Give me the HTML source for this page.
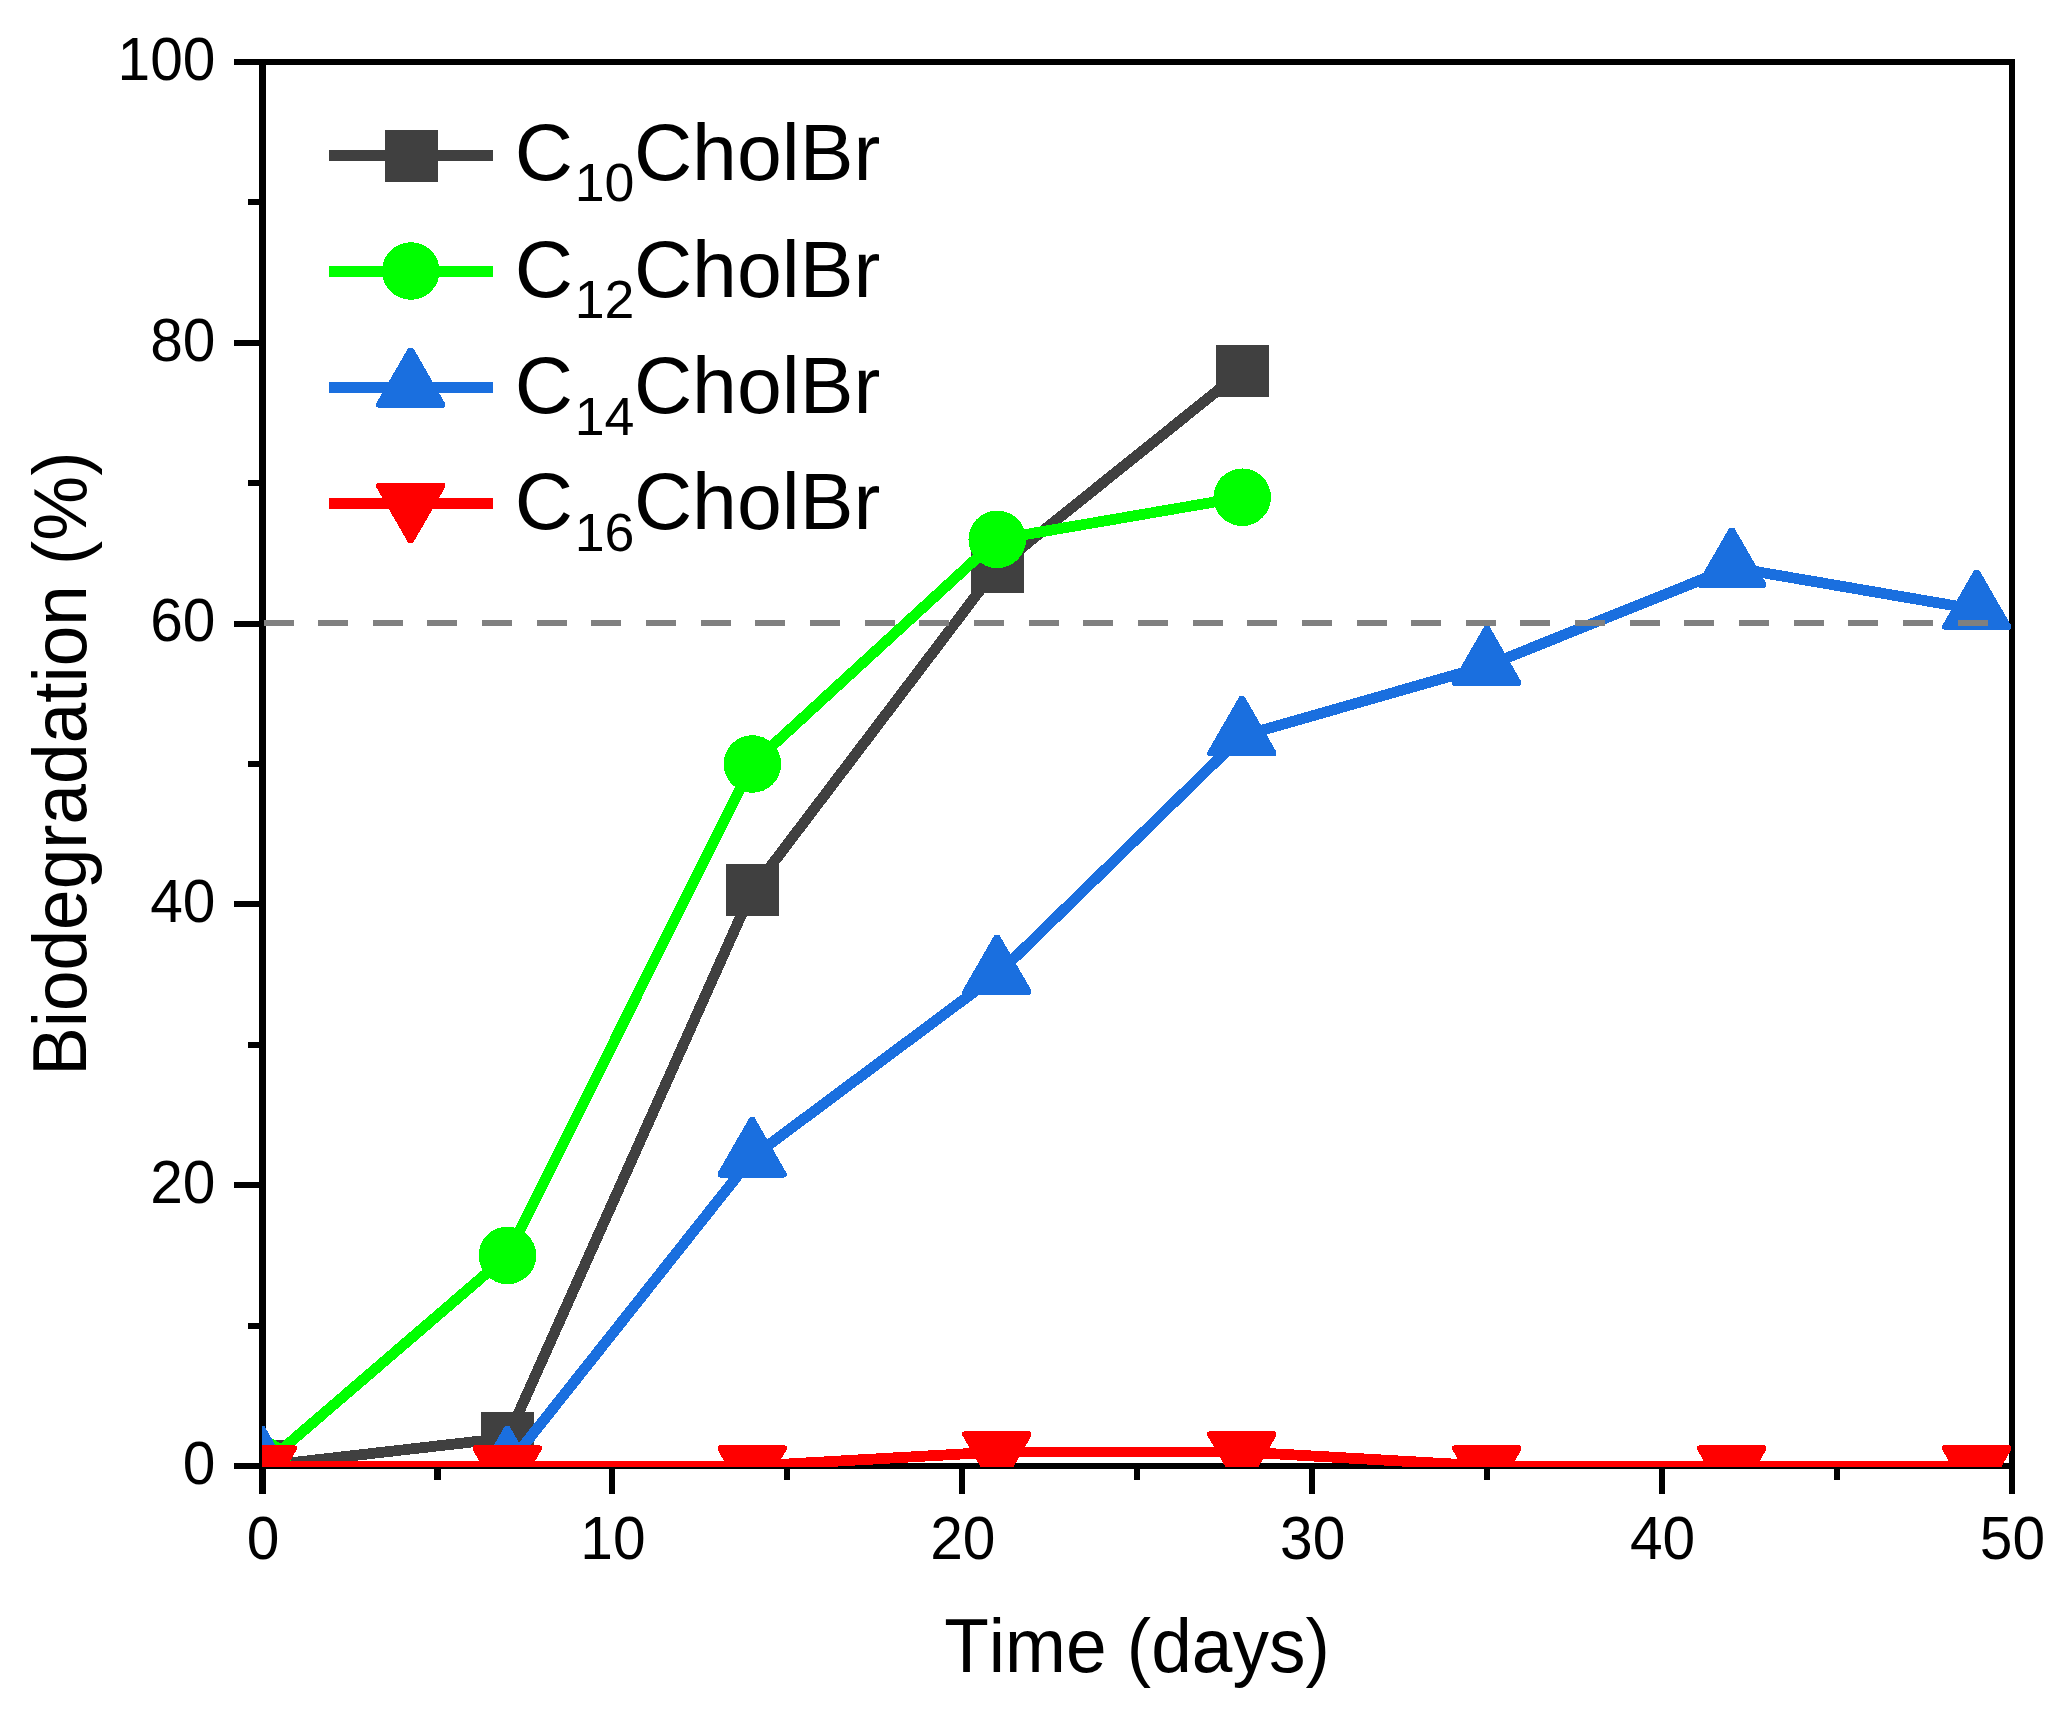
<!DOCTYPE html>
<html lang="en"><head><meta charset="utf-8"><title>Biodegradation (%) vs Time (days)</title>
<style>html,body{margin:0;padding:0;background:#fff;overflow:hidden}svg{display:block}text{font-family:"Liberation Sans",Arial,Helvetica,sans-serif;fill:#000;font-kerning:none}</style></head><body>
<svg width="2064" height="1719" viewBox="0 0 2064 1719">
<rect x="0" y="0" width="2064" height="1719" fill="#fff"/>
<defs><clipPath id="plotclip"><rect x="262" y="62" width="1749" height="1405"/></clipPath></defs>
<g fill="#000" shape-rendering="crispEdges">
<rect x="259" y="59" width="1756" height="6"/>
<rect x="259" y="1463" width="1756" height="6"/>
<rect x="259" y="59" width="7" height="1410"/>
<rect x="2009" y="59" width="6" height="1410"/>
<rect x="234" y="1463" width="26" height="6"/>
<rect x="248" y="1323" width="12" height="6"/>
<rect x="234" y="1182" width="26" height="6"/>
<rect x="248" y="1042" width="12" height="6"/>
<rect x="234" y="901" width="26" height="6"/>
<rect x="248" y="761" width="12" height="6"/>
<rect x="234" y="621" width="26" height="6"/>
<rect x="248" y="480" width="12" height="6"/>
<rect x="234" y="340" width="26" height="6"/>
<rect x="248" y="199" width="12" height="6"/>
<rect x="234" y="59" width="26" height="6"/>
<rect x="259" y="1468" width="7" height="26"/>
<rect x="434" y="1468" width="7" height="12"/>
<rect x="609" y="1468" width="6" height="26"/>
<rect x="784" y="1468" width="6" height="12"/>
<rect x="959" y="1468" width="6" height="26"/>
<rect x="1134" y="1468" width="6" height="12"/>
<rect x="1309" y="1468" width="6" height="26"/>
<rect x="1484" y="1468" width="6" height="12"/>
<rect x="1659" y="1468" width="6" height="26"/>
<rect x="1834" y="1468" width="6" height="12"/>
<rect x="2009" y="1468" width="6" height="26"/>
</g>
<g clip-path="url(#plotclip)" shape-rendering="crispEdges">
<polyline points="262.5,1466 507.43,1437.92 752.36,890.36 997.29,567.44 1242.22,370.88" fill="none" stroke="#404040" stroke-width="10.8" stroke-linejoin="round"/>
<rect x="236" y="1440" width="53" height="52" fill="#404040"/>
<rect x="480.93" y="1411.92" width="53" height="52" fill="#404040"/>
<rect x="725.86" y="864.36" width="53" height="52" fill="#404040"/>
<rect x="970.79" y="541.44" width="53" height="52" fill="#404040"/>
<rect x="1215.72" y="344.88" width="53" height="52" fill="#404040"/>
<polyline points="262.5,1466 507.43,1255.4 752.36,764 997.29,539.36 1242.22,497.24" fill="none" stroke="#00ff00" stroke-width="10.8" stroke-linejoin="round"/>
<circle cx="262.5" cy="1466" r="28.8" fill="#00ff00"/>
<circle cx="507.43" cy="1255.4" r="28.8" fill="#00ff00"/>
<circle cx="752.36" cy="764" r="28.8" fill="#00ff00"/>
<circle cx="997.29" cy="539.36" r="28.8" fill="#00ff00"/>
<circle cx="1242.22" cy="497.24" r="28.8" fill="#00ff00"/>
<polyline points="262.5,1466 507.43,1466 752.36,1157.12 997.29,974.6 1242.22,735.92 1487.15,665.72 1732.08,567.44 1977.01,609.56" fill="none" stroke="#1a6fdf" stroke-width="10.8" stroke-linejoin="round"/>
<polygon points="259.8,1426.3 264.6,1426.3 296.7,1482 296.7,1485.2 294.5,1486.4 229.9,1486.4 227.7,1485.2 227.7,1482" fill="#1a6fdf"/>
<polygon points="504.73,1426.3 509.53,1426.3 541.63,1482 541.63,1485.2 539.43,1486.4 474.83,1486.4 472.63,1485.2 472.63,1482" fill="#1a6fdf"/>
<polygon points="749.66,1117.42 754.46,1117.42 786.56,1173.12 786.56,1176.32 784.36,1177.52 719.76,1177.52 717.56,1176.32 717.56,1173.12" fill="#1a6fdf"/>
<polygon points="994.59,934.9 999.39,934.9 1031.49,990.6 1031.49,993.8 1029.29,995 964.69,995 962.49,993.8 962.49,990.6" fill="#1a6fdf"/>
<polygon points="1239.52,696.22 1244.32,696.22 1276.42,751.92 1276.42,755.12 1274.22,756.32 1209.62,756.32 1207.42,755.12 1207.42,751.92" fill="#1a6fdf"/>
<polygon points="1484.45,626.02 1489.25,626.02 1521.35,681.72 1521.35,684.92 1519.15,686.12 1454.55,686.12 1452.35,684.92 1452.35,681.72" fill="#1a6fdf"/>
<polygon points="1729.38,527.74 1734.18,527.74 1766.28,583.44 1766.28,586.64 1764.08,587.84 1699.48,587.84 1697.28,586.64 1697.28,583.44" fill="#1a6fdf"/>
<polygon points="1974.31,569.86 1979.11,569.86 2011.21,625.56 2011.21,628.76 2009.01,629.96 1944.41,629.96 1942.21,628.76 1942.21,625.56" fill="#1a6fdf"/>
<polyline points="262.5,1466 507.43,1466 752.36,1466 997.29,1451.96 1242.22,1451.96 1487.15,1466 1732.08,1466 1977.01,1466" fill="none" stroke="#ff0000" stroke-width="10.8" stroke-linejoin="round"/>
<polygon points="259.8,1505.4 264.6,1505.4 296.7,1449.7 296.7,1446.2 294.5,1445 229.9,1445 227.7,1446.2 227.7,1449.7" fill="#ff0000"/>
<polygon points="504.73,1505.4 509.53,1505.4 541.63,1449.7 541.63,1446.2 539.43,1445 474.83,1445 472.63,1446.2 472.63,1449.7" fill="#ff0000"/>
<polygon points="749.66,1505.4 754.46,1505.4 786.56,1449.7 786.56,1446.2 784.36,1445 719.76,1445 717.56,1446.2 717.56,1449.7" fill="#ff0000"/>
<polygon points="994.59,1491.36 999.39,1491.36 1031.49,1435.66 1031.49,1432.16 1029.29,1430.96 964.69,1430.96 962.49,1432.16 962.49,1435.66" fill="#ff0000"/>
<polygon points="1239.52,1491.36 1244.32,1491.36 1276.42,1435.66 1276.42,1432.16 1274.22,1430.96 1209.62,1430.96 1207.42,1432.16 1207.42,1435.66" fill="#ff0000"/>
<polygon points="1484.45,1505.4 1489.25,1505.4 1521.35,1449.7 1521.35,1446.2 1519.15,1445 1454.55,1445 1452.35,1446.2 1452.35,1449.7" fill="#ff0000"/>
<polygon points="1729.38,1505.4 1734.18,1505.4 1766.28,1449.7 1766.28,1446.2 1764.08,1445 1699.48,1445 1697.28,1446.2 1697.28,1449.7" fill="#ff0000"/>
<polygon points="1974.31,1505.4 1979.11,1505.4 2011.21,1449.7 2011.21,1446.2 2009.01,1445 1944.41,1445 1942.21,1446.2 1942.21,1449.7" fill="#ff0000"/>
<line x1="263.5" y1="623" x2="2011" y2="623" stroke="#808080" stroke-width="6" stroke-dasharray="30 24.65" shape-rendering="crispEdges"/>
</g>
<g font-size="58.7">
<text transform="translate(215.5 1483.8) scale(1 1.035)" text-anchor="end">0</text>
<text transform="translate(215.5 1203) scale(1 1.035)" text-anchor="end">20</text>
<text transform="translate(215.5 922.2) scale(1 1.035)" text-anchor="end">40</text>
<text transform="translate(215.5 641.4) scale(1 1.035)" text-anchor="end">60</text>
<text transform="translate(215.5 360.6) scale(1 1.035)" text-anchor="end">80</text>
<text transform="translate(215.5 79.8) scale(1 1.035)" text-anchor="end">100</text>
<text transform="translate(263 1558.7) scale(1 1.035)" text-anchor="middle">0</text>
<text transform="translate(612.9 1558.7) scale(1 1.035)" text-anchor="middle">10</text>
<text transform="translate(962.8 1558.7) scale(1 1.035)" text-anchor="middle">20</text>
<text transform="translate(1312.7 1558.7) scale(1 1.035)" text-anchor="middle">30</text>
<text transform="translate(1662.6 1558.7) scale(1 1.035)" text-anchor="middle">40</text>
<text transform="translate(2012.5 1558.7) scale(1 1.035)" text-anchor="middle">50</text>
</g>
<text transform="translate(1137 1672.1) scale(1 1.035)" font-size="73.05" text-anchor="middle">Time (days)</text>
<text transform="translate(86 763.7) rotate(-90) scale(1 1.035)" font-size="72.95" text-anchor="middle">Biodegradation (%)</text>
<g shape-rendering="crispEdges">
<rect x="329" y="150.1" width="164" height="10.8" fill="#404040" shape-rendering="crispEdges"/>
<rect x="329" y="266.1" width="164" height="10.8" fill="#00ff00" shape-rendering="crispEdges"/>
<rect x="329" y="382.1" width="164" height="10.8" fill="#1a6fdf" shape-rendering="crispEdges"/>
<rect x="329" y="498.1" width="164" height="10.8" fill="#ff0000" shape-rendering="crispEdges"/>
<rect x="385" y="130" width="53" height="52" fill="#404040"/>
<circle cx="410.8" cy="271" r="28.8" fill="#00ff00"/>
<polygon points="408.3,347.8 413.1,347.8 445.2,403.5 445.2,406.7 443,407.9 378.4,407.9 376.2,406.7 376.2,403.5" fill="#1a6fdf"/>
<polygon points="408.3,542.9 413.1,542.9 445.2,487.2 445.2,483.7 443,482.5 378.4,482.5 376.2,483.7 376.2,487.2" fill="#ff0000"/>
</g>
<g font-size="80.6">
<text x="514.8" y="179.5">C<tspan x="574.7" font-size="53.7" dy="21.9">10</tspan><tspan x="633.9" dy="-21.9">CholBr</tspan></text>
<text x="514.8" y="296.5">C<tspan x="574.7" font-size="53.7" dy="21.9">12</tspan><tspan x="633.9" dy="-21.9">CholBr</tspan></text>
<text x="514.8" y="412.7">C<tspan x="574.7" font-size="53.7" dy="21.9">14</tspan><tspan x="633.9" dy="-21.9">CholBr</tspan></text>
<text x="514.8" y="528.8">C<tspan x="574.7" font-size="53.7" dy="21.9">16</tspan><tspan x="633.9" dy="-21.9">CholBr</tspan></text>
</g>
</svg></body></html>
